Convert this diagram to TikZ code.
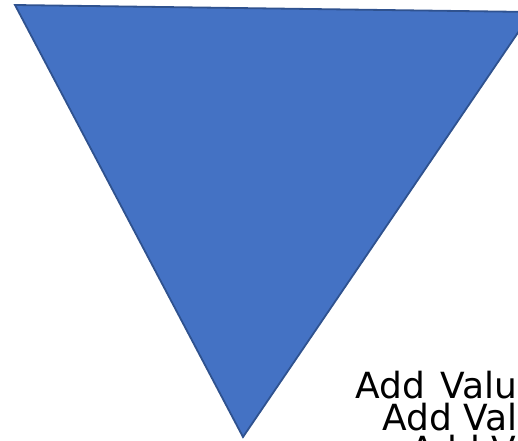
\documentclass[tikz,border=0pt]{standalone}
\usepackage{fontspec}
\setmainfont{DejaVu Sans}
\definecolor{triFill}{HTML}{4472C4}
\definecolor{triLine}{HTML}{2F528F}
\begin{document}
\begin{tikzpicture}[x=1pt,y=1pt,
  tri/.style={fill=triFill,draw=triLine,line width=1.8pt,line join=miter},
  lbl/.style={anchor=base west,inner sep=0pt,font=\fontsize{36}{40}\selectfont}]
\useasboundingbox (0,0) rectangle (518,440);
\clip (0,0) rectangle (518,440);
\coordinate (tl) at (15,435);
\coordinate (tr) at (532,428);
\coordinate (ap) at (243,3);
\draw[tri] (tl) -- (tr) -- (ap) -- cycle;
\node[lbl] (l1) at (355,42) {Add\hspace{16pt}Value};
\node[lbl] (l2) at (382,10) {Add Value};
\node[lbl] (l3) at (410,-22) {Add Value};
\end{tikzpicture}
\end{document}
